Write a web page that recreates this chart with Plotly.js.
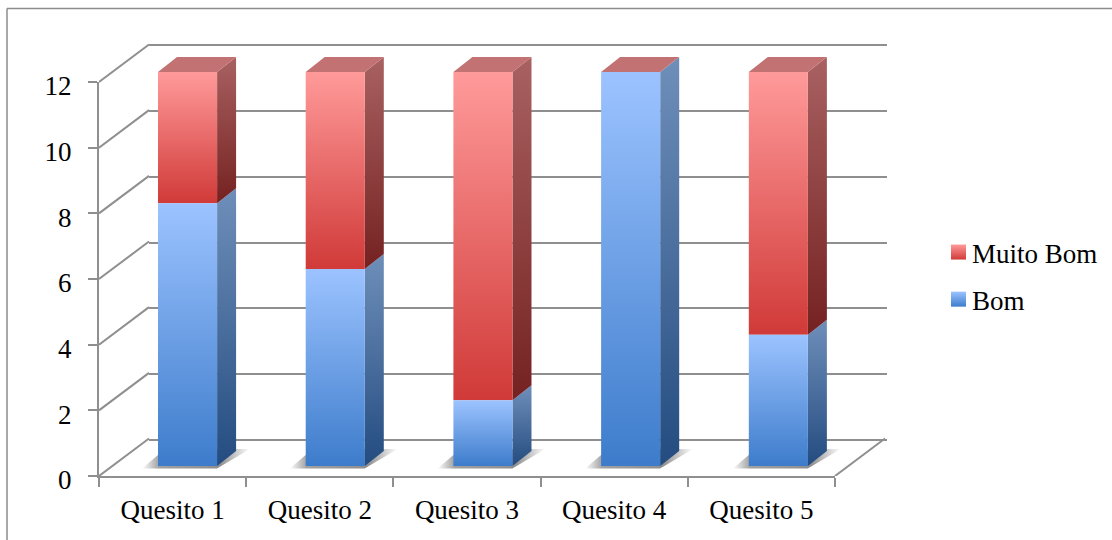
<!DOCTYPE html>
<html>
<head>
<meta charset="utf-8">
<script src="https://cdn.plot.ly/plotly-3.0.1.min.js"></script>
<style>html,body{margin:0;padding:0;background:#fff}</style>
</head>
<body>
<div id="chart" style="width:1112px;height:540px"></div>
<script>
const categories = ['Quesito 1', 'Quesito 2', 'Quesito 3', 'Quesito 4', 'Quesito 5'];
const bom = [8, 6, 2, 12, 4];
const muitoBom = [4, 6, 10, 0, 8];
const yTicks = [0, 2, 4, 6, 8, 10, 12];

const W = 1112, H = 540;
const domX = (a, b) => [a / W, b / W];
const domY = (top, bottom) => [(H - bottom) / H, (H - top) / H];
const GRID = '#8f8f8f';
const FONT = {family: '"Liberation Serif", serif', size: 27, color: '#000'};

// px-per-unit of the bar axes
const barUnitX = 147.7, barUnitY = 32.83;
const depthX = 19 / barUnitX, depthY = 15 / barUnitY;
const halfBar = 0.2;
const idx = categories.map((_, i) => i);

function vgrad(bottom, top) {
  return {type: 'vertical', colorscale: [[0, bottom], [1, top]]};
}
function poly(xs, ys, grad, solid) {
  const t = {type: 'scatter', mode: 'lines', x: xs, y: ys, fill: 'toself', line: {width: 0},
    xaxis: 'x2', yaxis: 'y2', showlegend: false, hoverinfo: 'skip'};
  if (grad) t.fillgradient = grad; else t.fillcolor = solid;
  return t;
}

const traces = [];

// invisible trace that makes the back-wall subplot draw its grid
traces.push({type: 'scatter', mode: 'markers', x: [0], y: [0], marker: {opacity: 0},
  xaxis: 'x', yaxis: 'y', showlegend: false, hoverinfo: 'skip'});

// floor shadows
idx.forEach(i => {
  const L = i - halfBar;
  const px = [-16, 59, 92, 60, 0].map(v => L + v / barUnitX);
  const py = [-2.5, -2.5, 17, 17, 11].map(v => v / barUnitY);
  traces.push(poly(px, py, {type: 'horizontal', colorscale: [[0, '#ffffff'], [0.16, '#a0a0a0'], [0.72, '#8e8e8e'], [1, '#ffffff']]}));
});

// side and top faces of each stacked bar
idx.forEach(i => {
  const R = i + halfBar, L = i - halfBar;
  const segs = [[0, bom[i], '#244c80', '#6f8fba'], [bom[i], bom[i] + muitoBom[i], '#742221', '#a96161']];
  segs.forEach(s => {
    if (s[1] <= s[0]) return;
    traces.push(poly([R, R + depthX, R + depthX, R, R],
      [s[0], s[0] + depthY, s[1] + depthY, s[1], s[0]], vgrad(s[2], s[3])));
  });
  const top = bom[i] + muitoBom[i];
  traces.push(poly([L, L + depthX, R + depthX, R, L], [top, top + depthY, top + depthY, top, top], null, '#c27272'));
});

// invisible trace that gives the front axis its categories
traces.push({type: 'scatter', mode: 'markers', x: categories, y: categories.map(() => 0),
  marker: {opacity: 0}, xaxis: 'x3', yaxis: 'y3', showlegend: false, hoverinfo: 'skip'});

// diagonal lines joining front axis and back wall
const wallDX = 50 / 147.2, wallDY = 37.5 / 32.83;
yTicks.forEach(v => {
  traces.push({type: 'scatter', mode: 'lines', x: [-0.5, -0.5 + wallDX], y: [v, v + wallDY],
    line: {color: GRID, width: 2}, xaxis: 'x5', yaxis: 'y5', showlegend: false, hoverinfo: 'skip'});
});
traces.push({type: 'scatter', mode: 'lines', x: [4.5, 4.5 + wallDX], y: [0, wallDY],
  line: {color: GRID, width: 2}, xaxis: 'x5', yaxis: 'y5', showlegend: false, hoverinfo: 'skip'});

// the front faces
traces.push({type: 'bar', name: 'Muito Bom', x: categories, y: muitoBom, base: bom, xaxis: 'x4', yaxis: 'y4', width: 0.4,
  marker: {color: '#ea6a6a', line: {width: 0}}, legendgroup: 'b'});
traces.push({type: 'bar', name: 'Bom', x: categories, y: bom, xaxis: 'x4', yaxis: 'y4', width: 0.4,
  marker: {color: '#6a9fe6', line: {width: 0}}, legendgroup: 'a'});

const hidden = {visible: false, fixedrange: true};
const pad = 60; // px of headroom on the helper axes, so nothing is clipped
const wallUnit = 395 / 12, wallPad = 10;
const layout = {
  width: W, height: H, autosize: false,
  margin: {l: 0, r: 0, t: 0, b: 0, pad: 0},
  paper_bgcolor: '#fff', plot_bgcolor: 'rgba(0,0,0,0)',
  barmode: 'overlay', font: FONT, hovermode: false,
  // back wall (a little wider than 0..12 so the end grid lines are kept)
  xaxis: {domain: domX(149, 887), range: [0, 1], showticklabels: false, ticks: '', showgrid: false, zeroline: false, fixedrange: true, anchor: 'y'},
  yaxis: {domain: domY(45 - wallPad, 440 + wallPad), range: [-wallPad / wallUnit, 12 + wallPad / wallUnit], tickvals: yTicks, showticklabels: false, ticks: '', showgrid: true, gridcolor: GRID, gridwidth: 2, zeroline: false, fixedrange: true, anchor: 'x'},
  // bar coordinates for the shadows and 3D faces
  xaxis2: Object.assign({domain: domX(113.7, 852.2 + pad), range: [-0.5, 4.5 + pad / barUnitX], anchor: 'y2'}, hidden),
  yaxis2: Object.assign({domain: domY(72 - pad, 466 + 10), range: [-10 / barUnitY, 12 + pad / barUnitY], anchor: 'x2'}, hidden),
  // front axes with labels
  xaxis3: {domain: domX(99, 835), type: 'category', categoryorder: 'array', categoryarray: categories, tickson: 'boundaries',
    range: [-0.5, 4.5], anchor: 'y3', showline: true, linecolor: GRID, linewidth: 2, ticks: 'outside', ticklen: 9, tickwidth: 2, tickcolor: GRID,
    showgrid: false, zeroline: false, tickfont: FONT, ticklabelstandoff: 9, fixedrange: true},
  yaxis3: {domain: domY(82, 476), range: [0, 12], tickvals: yTicks, anchor: 'x3', showline: true, linecolor: GRID, linewidth: 2, ticks: 'outside', ticklen: 9, tickwidth: 2, tickcolor: GRID,
    showgrid: false, zeroline: false, tickfont: FONT, ticklabelstandoff: 11, ticklabelshift: 4, fixedrange: true},
  // front faces of the bars
  xaxis4: Object.assign({domain: domX(113.7, 852.2), type: 'category', categoryorder: 'array', categoryarray: categories, range: [-0.5, 4.5], anchor: 'y4'}, hidden),
  yaxis4: Object.assign({domain: domY(72, 466), range: [0, 12], anchor: 'x4'}, hidden),
  // linear twins of the front axes, for the diagonals
  xaxis5: Object.assign({domain: domX(99, 835 + pad), range: [-0.5, 4.5 + pad / 147.2], anchor: 'y5'}, hidden),
  yaxis5: Object.assign({domain: domY(82 - pad, 476), range: [0, 12 + pad / 32.83], anchor: 'x5'}, hidden),
  legend: {x: 932 / W, y: (H - 228) / H, xanchor: 'left', yanchor: 'top', traceorder: 'grouped', tracegroupgap: 9,
    font: FONT, bgcolor: 'rgba(0,0,0,0)', itemclick: false, itemdoubleclick: false},
  showlegend: true,
  shapes: [
    {type: 'line', xref: 'paper', yref: 'paper', x0: 7 / W, x1: 1, y0: (H - 8.5) / H, y1: (H - 8.5) / H, line: {color: '#8c8c8c', width: 1.5}},
    {type: 'line', xref: 'paper', yref: 'paper', x0: 7 / W, x1: 7 / W, y0: 0, y1: (H - 8.5) / H, line: {color: '#8c8c8c', width: 1.5}}
  ]
};

Plotly.newPlot('chart', traces, layout, {displayModeBar: false}).then(gd => {
  const svg = gd.querySelector('svg.main-svg');
  const NS = 'http://www.w3.org/2000/svg';
  const defs = svg.querySelector('defs') || svg.insertBefore(document.createElementNS(NS, 'defs'), svg.firstChild);
  function addGrad(id, c0, c1) {
    const g = document.createElementNS(NS, 'linearGradient');
    g.setAttribute('id', id); g.setAttribute('x1', '0'); g.setAttribute('y1', '0'); g.setAttribute('x2', '0'); g.setAttribute('y2', '1');
    [[0, c0], [1, c1]].forEach(s => {
      const st = document.createElementNS(NS, 'stop');
      st.setAttribute('offset', s[0]); st.setAttribute('stop-color', s[1]);
      g.appendChild(st);
    });
    defs.appendChild(g);
  }
  addGrad('gradBom', '#9cc3ff', '#3d7ccb');
  addGrad('gradMuito', '#ff9a9a', '#d03a38');
  const ids = ['gradMuito', 'gradBom'];
  gd.querySelectorAll('.barlayer .trace.bars').forEach((t, k) => t.querySelectorAll('path').forEach(p => { p.style.fill = 'url(#' + ids[k] + ')'; }));
  gd.querySelectorAll('.legend .traces').forEach(t => {
    const label = t.querySelector('.legendtext').textContent;
    const id = label === 'Bom' ? 'gradBom' : 'gradMuito';
    t.querySelectorAll('.legendpoints path').forEach(p => {
      p.setAttribute('d', 'M7.5,7.5H-7.5V-7.5H7.5Z');
      p.setAttribute('transform', 'translate(26.5,0)');
      p.style.fill = 'url(#' + id + ')';
      p.style.stroke = 'none';
    });
  });
});
</script>
</body>
</html>
